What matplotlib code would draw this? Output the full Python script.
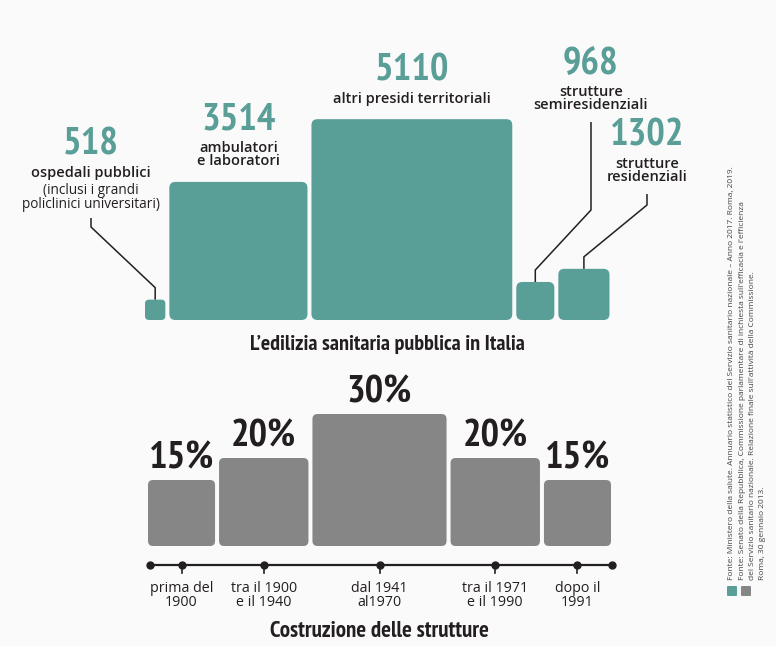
import matplotlib
matplotlib.use("Agg")
import matplotlib.pyplot as plt
from matplotlib.patches import FancyBboxPatch

# edilizia sanitaria pubblica: numero di strutture per tipo
struct_values = [518, 3514, 5110, 968, 1302]
struct_titles = ["ospedali pubblici", "ambulatori\ne laboratori", "altri presidi territoriali",
                 "strutture\nsemiresidenziali", "strutture\nresidenziali"]
struct_notes = ["(inclusi i grandi\npoliclinici universitari)", "", "", "", ""]

# epoca di costruzione (% delle strutture)
period_share = [15, 20, 30, 20, 15]
period_labels = ["prima del\n1900", "tra il 1900\ne il 1940", "dal 1941\nal1970",
                 "tra il 1971\ne il 1990", "dopo il\n1991"]

sources = ["Fonte: Ministero della salute. Annuario statistico del Servizio sanitario nazionale \u2013 Anno 2017. Roma, 2019.",
           "Fonte: Senato della Repubblica, Commissione parlamentare di inchiesta sull'efficacia e l'efficienza",
           "del Servizio sanitario nazionale. Relazione finale sull'attivit\u00e0 della Commissione.",
           "Roma, 30 gennaio 2013."]

TEAL = "#5a9e98"
GREY = "#868686"
INK = "#231f20"
BG = "#fafafa"

NARROW = ["PT Sans Narrow", "DejaVu Sans"]
SANS = ["Open Sans", "DejaVu Sans"]

fig = plt.figure(figsize=(7.76, 6.46), dpi=100, facecolor=BG)
ax = fig.add_axes([0, 0, 1, 1])
ax.set_xlim(0, 776)
ax.set_ylim(646, 0)
ax.axis("off")
ax.set_facecolor(BG)


def rbox(x, y, w, h, color, r=6):
    ax.add_patch(FancyBboxPatch((x + r, y + r), w - 2 * r, h - 2 * r,
                                boxstyle="round,pad=%g" % r, fc=color, ec="none"))


# ---- top: squares, side proportional to the count
side_k = 0.0393
gap = 4
base = 320
sides = [v * side_k for v in struct_values]
x = 145
centers = []
for s in sides:
    rbox(x, base - s, s, s, TEAL, r=min(6, s / 5))
    centers.append(x + s / 2)
    x += s + gap

# labels that sit beside their square: x, y of the number, y where the leader bends
side_labels = {0: (91, 145, 227), 3: (591, 64, 210), 4: (647, 136, 205)}

for i, v in enumerate(struct_values):
    nlines = struct_titles[i].count("\n") + 1
    top = base - sides[i]
    if i in side_labels:
        cx, ny, bend = side_labels[i]
    else:
        cx, ny, bend = centers[i], top - 34 - 14 * nlines, None
    ax.text(cx, ny, str(v), ha="center", va="center", color=TEAL,
            fontsize=28, fontweight="bold", family=NARROW)
    ty = ny + 21
    ax.text(cx, ty, struct_titles[i], ha="center", va="top", color=INK,
            fontsize=10.5, fontweight="semibold", family=SANS, linespacing=0.95)
    bottom = ty + 14 * nlines
    if struct_notes[i]:
        ax.text(cx, bottom + 3, struct_notes[i], ha="center", va="top", color=INK,
                fontsize=9.8, family=SANS, linespacing=0.9)
        bottom += 3 + 13 * (struct_notes[i].count("\n") + 1)
    if bend is not None:
        # leader line from the label down to its square
        ax.plot([cx, cx, centers[i], centers[i]],
                [bottom + 9, bend, top - 12, top], color=INK, lw=1.1,
                solid_joinstyle="round", solid_capstyle="butt")

ax.text(387, 350, "L\u2019edilizia sanitaria pubblica in Italia", ha="center", va="baseline",
        color=INK, fontsize=15.8, fontweight="bold", family=NARROW)

# ---- bottom: bars, width and height proportional to the share
wk = 4.47
hk = 4.4
base2 = 546
x = 148
mids = []
for p in period_share:
    w = p * wk
    h = p * hk
    rbox(x, base2 - h, w, h, GREY, r=5)
    ax.text(x + w / 2, base2 - h - 12, "%d%%" % p, ha="center", va="baseline", color=INK,
            fontsize=28, fontweight="bold", family=NARROW)
    mids.append(x + w / 2)
    x += w + gap
line_end = x - gap + 1

# timeline
ty = 565
ax.plot([150, line_end], [ty, ty], color=INK, lw=1.6)
ax.plot([150, line_end], [ty, ty], "o", color=INK, ms=5)
for m, lab in zip(mids, period_labels):
    ax.plot([m], [ty], "o", color=INK, ms=5)
    ax.plot([m, m], [ty, ty + 8], color=INK, lw=1.2)
    ax.text(m, ty + 16, lab, ha="center", va="top", color=INK, fontsize=10.3,
            family=SANS, linespacing=0.95)

ax.text(379, 637, "Costruzione delle strutture", ha="center", va="baseline",
        color=INK, fontsize=16.5, fontweight="bold", family=NARROW)

# ---- sources, rotated
for i, s in enumerate(sources):
    ax.text(732 + i * 10, 580, s, rotation=90, ha="center", va="bottom", color="#444444",
            fontsize=6, family=SANS)
rbox(727, 586, 10, 10, TEAL, r=1)
rbox(741, 586, 10, 10, GREY, r=1)

fig.savefig("out.png", dpi=100, facecolor=BG)
